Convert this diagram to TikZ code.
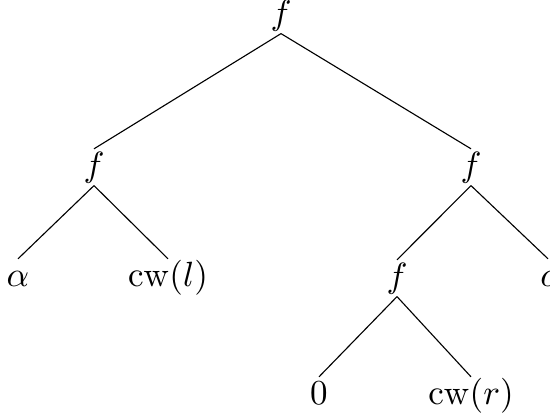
\documentclass[tikz,border=0pt]{standalone}
\begin{document}
\begin{tikzpicture}[x=0.3125pt,y=-0.3125pt,
  font=\fontsize{10.6}{12.7}\selectfont,
  lbl/.style={inner sep=0pt, anchor=base, text height=0.83em, text depth=0.28em},
  edge/.style={line width=0.35pt}]
\useasboundingbox (0,0) rectangle (550,418);
\node[lbl] (r) at (281,24) {$f$};
\node[lbl] (l) at (94,176) {$f$};
\node[lbl] (rr) at (471,176) {$f$};
\node[lbl] (a) at (18,286) {$\alpha$};
\node[lbl] (cwl) at (168,286) {$\mathrm{cw}(l)$};
\node[lbl] (m) at (397,287) {$f$};
\node[lbl] (c) at (548,286) {$c$};
\node[lbl] (z) at (319,404) {$0$};
\node[lbl] (cwr) at (471,404) {$\mathrm{cw}(r)$};
\draw[edge] (r.south) -- (l.north);
\draw[edge] (r.south) -- (rr.north);
\draw[edge] (l.south) -- (a.north);
\draw[edge] (l.south) -- (cwl.north);
\draw[edge] (rr.south) -- (m.north);
\draw[edge] (rr.south) -- (c.north);
\draw[edge] (m.south) -- (z.north);
\draw[edge] (m.south) -- (cwr.north);
\end{tikzpicture}
\end{document}
